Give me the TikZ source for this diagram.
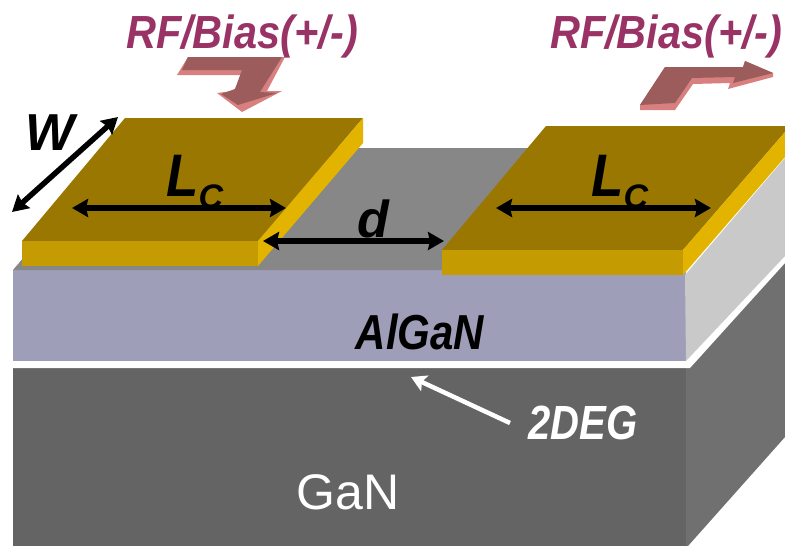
\documentclass[tikz,border=0pt]{standalone}
\usepackage{fontspec}
\setmainfont{Liberation Sans}
\usepackage{xcolor}
\usetikzlibrary{arrows.meta}
\definecolor{padtop}{HTML}{997700}
\definecolor{padfront}{HTML}{C49B00}
\definecolor{padside}{HTML}{E2B400}
\definecolor{algan}{HTML}{9E9EB8}
\definecolor{gan}{HTML}{646464}
\definecolor{ganside}{HTML}{707070}
\definecolor{rftext}{HTML}{993366}
\definecolor{rfface}{HTML}{9C5C5C}
\definecolor{rfedge}{HTML}{D88080}
\tikzset{
    dimarrow/.style={{Stealth[length=16pt,width=18pt,inset=2pt]}-{Stealth[length=16pt,width=18pt,inset=2pt]},line width=5.5pt,black},
    rflabel/.style={font=\fontsize{41.5}{41.5}\selectfont\bfseries\itshape,text=rftext,inner sep=0pt,anchor=base,yscale=1.12},
    bigitalic/.style={font=\fontsize{52}{52}\selectfont\bfseries\itshape,text=black,inner sep=0pt},
    biglength/.style={font=\fontsize{60}{60}\selectfont\bfseries\itshape,text=black,inner sep=0pt,anchor=base west,xscale=0.88},
    smallc/.style={font=\fontsize{34}{34}\selectfont\bfseries\itshape,text=black,inner sep=0pt,anchor=base west},
}
\begin{document}
\begin{tikzpicture}[x=1pt,y=-1pt]
    \useasboundingbox (0,0) rectangle (785,546);
    % substrate
    \fill[gan] (13,368) rectangle (686,546);
    \fill[ganside] (686,368) -- (785,262) -- (785,437) -- (688,546) -- (686,546) -- cycle;
    \fill[white] (685,361) -- (781,258) -- (785,258) -- (785,263) -- (690,368) -- (13,368) -- (13,361) -- cycle;
    \fill[algan] (13,270) rectangle (686,361);
    \fill[black!47] (13,270) -- (117,148) -- (530,148) -- (685,270) -- cycle;
    \fill[black!21] (685,275) -- (785,158) -- (785,256) -- (686,361) -- cycle;
    % contacts
    \fill[padtop] (125,118) -- (363,118) -- (258,241) -- (22,241) -- cycle;
    \fill[padfront] (22,241) rectangle (258,266);
    \fill[padside] (258,241) -- (363,118) -- (363,143) -- (258,266) -- cycle;
    \fill[padtop] (546,126) -- (785,126) -- (785,132) -- (683,250) -- (442,250) -- cycle;
    \fill[padfront] (442,250) rectangle (683,275);
    \fill[padside] (683,250) -- (785,132) -- (785,157) -- (683,275) -- cycle;
    % RF arrows
    \fill[rfedge] (188,57) -- (285,57) -- (267,91) -- (282,91) -- (242,112) -- (217,93) -- (233,91) -- (245,75) -- (177,75) -- cycle;
    \fill[rfface] (188,57) -- (282,57) -- (260,92) -- (277,93) -- (238,105) -- (221,94) -- (235,89) -- (242,70) -- (182,70) -- cycle;
    \fill[rfedge] (665,67) -- (743,67) -- (745,61) -- (773,73) -- (773,77) -- (728,89) -- (730,83) -- (693,84) -- (675,110) -- (640,110) -- (640,105) -- cycle;
    \fill[rfface] (665,67) -- (743,67) -- (745,61) -- (773,73) -- (733,83) -- (735,77) -- (692,78) -- (675,103) -- (640,105) -- cycle;
    % labels
    \node[rflabel] (rfleft) at (242,48) {RF/Bias(+/-)};
    \node[rflabel] (rfright) at (666,48) {RF/Bias(+/-)};
    \node[bigitalic] (width) at (50,133) {W};
    \node[biglength] (lcleft) at (166,196) {L};
    \node[smallc] (cleft) at (198.5,208) {C};
    \node[biglength] (lcright) at (591,196) {L};
    \node[smallc] (cright) at (623.5,208) {C};
    \node[bigitalic,anchor=base] (gap) at (373,237) {d};
    \node[font=\fontsize{42}{42}\selectfont\bfseries\itshape,inner sep=0pt,anchor=base,yscale=1.17] (alganlabel) at (420,349) {AlGaN};
    \node[font=\fontsize{40}{40}\selectfont\bfseries\itshape,text=white,inner sep=0pt,anchor=base,yscale=1.2] (deg) at (583,439) {2DEG};
    \node[font=\fontsize{50}{50}\selectfont,text=white,inner sep=0pt] (ganlabel) at (348,492) {GaN};
    % dimensions
    \coordinate (wa) at (12,212);
    \coordinate (wb) at (118,117);
    \coordinate (lla) at (72,208);
    \coordinate (llb) at (286,208);
    \coordinate (lra) at (496,208);
    \coordinate (lrb) at (711,208);
    \coordinate (da) at (263,241);
    \coordinate (db) at (444,241);
    \coordinate (dega) at (510,423);
    \coordinate (degb) at (411,377);
    \draw[dimarrow] (wa) -- (wb);
    \draw[dimarrow] (lla) -- (llb);
    \draw[dimarrow] (lra) -- (lrb);
    \draw[dimarrow] (da) -- (db);
    \draw[-{Stealth[length=15pt,width=17pt,inset=3pt]},line width=4.5pt,white] (dega) -- (degb);
\end{tikzpicture}
\end{document}
